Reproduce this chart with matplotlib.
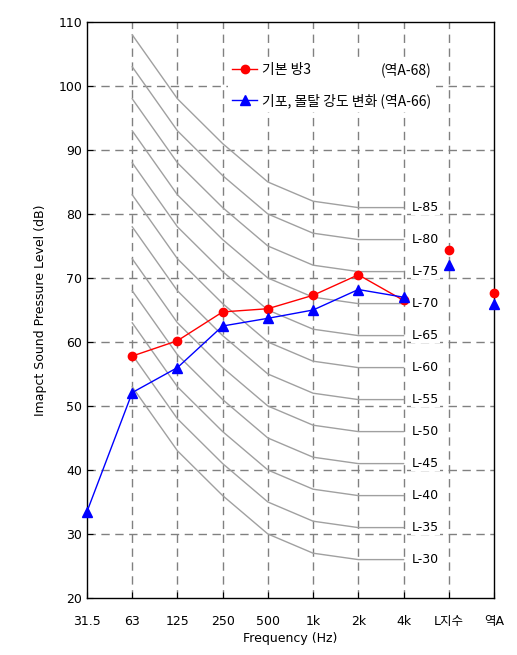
import matplotlib
matplotlib.use("Agg")
import matplotlib.pyplot as plt

plt.rcParams['font.family'] = ['DejaVu Sans', 'Noto Sans CJK KR']

# Categories (x axis)
categories = ['31.5', '63', '125', '250', '500', '1k', '2k', '4k', 'L지수', '역A']

# Measured series
red_label = '기본 방3'
red_note = '(역A-68)'
red_x = [1, 2, 3, 4, 5, 6, 7]
red_vals = [57.8, 60.2, 64.7, 65.2, 67.3, 70.5, 66.5]
red_extra_x = [8, 9]
red_extra = [74.3, 67.6]

blue_label = '기포, 몰탈 강도 변화 (역A-66)'
blue_x = [0, 1, 2, 3, 4, 5, 6, 7]
blue_vals = [33.5, 52.1, 56.0, 62.5, 63.7, 65.0, 68.2, 67.0]
blue_extra_x = [8, 9]
blue_extra = [72.0, 65.9]

# L-number reference curves (63 Hz .. 4 kHz)
curve_x = [1, 2, 3, 4, 5, 6, 7]
curve_shape = [23, 13, 6, 0, -3, -4, -4]   # offset relative to 500 Hz value
l_numbers = [30, 35, 40, 45, 50, 55, 60, 65, 70, 75, 80, 85]

fig = plt.figure(figsize=(5.17, 6.55), dpi=100)
ax = fig.add_axes([87/517, 1-598/655, (494-87)/517, (598-22)/655])

grid_style = dict(color='#808080', linestyle=(0, (6, 4)), linewidth=1.0)
for xv in range(1, 9):
    ax.axvline(xv, zorder=1, **grid_style)
for yv in range(30, 101, 10):
    ax.axhline(yv, zorder=1, **grid_style)

for n in l_numbers:
    ys = [n + d for d in curve_shape]
    ax.plot(curve_x, ys, color='#a0a0a0', linewidth=1.0, zorder=2)
    ax.text(7.18, ys[-1], f'L-{n}', fontsize=9, va='center', ha='left', zorder=3,
            bbox=dict(facecolor='white', edgecolor='none', pad=0.5))

ax.plot(red_x, red_vals, color='red', linewidth=1.0, marker='o', markersize=6,
        label=red_label, zorder=4)
ax.plot(red_extra_x, red_extra, color='red', linestyle='none', marker='o',
        markersize=6, zorder=8, clip_on=False)
ax.plot(blue_x, blue_vals, color='blue', linewidth=1.0, marker='^', markersize=7,
        label=blue_label, zorder=8, clip_on=False)
ax.plot(blue_extra_x, blue_extra, color='blue', linestyle='none', marker='^',
        markersize=7, zorder=8, clip_on=False)

ax.set_xlim(0, 9)
ax.set_ylim(20, 110)
ax.set_xticks(range(len(categories)))
ax.set_xticklabels(categories, fontsize=9)
ax.set_yticks(range(20, 111, 10))
ax.tick_params(axis='both', direction='in', length=4, labelsize=9)
ax.tick_params(axis='x', pad=12)
ax.set_xlabel('Frequency (Hz)', fontsize=9, labelpad=3)
ax.set_ylabel('Imapct Sound Pressure Level (dB)', fontsize=9, labelpad=8)
for s in ax.spines.values():
    s.set_linewidth(1.0)
    s.set_zorder(6)

leg_font = {'family': ['Noto Sans CJK KR', 'DejaVu Sans'], 'size': 10}
leg = ax.legend(loc='upper left', bbox_to_anchor=(0.33, 0.948), frameon=True,
                facecolor='white', edgecolor='none', framealpha=1,
                prop=leg_font, handlelength=1.8, labelspacing=1.15,
                borderpad=0.3, handletextpad=0.35)
leg.set_zorder(7)

# right-aligned note for first legend entry, aligned with the end of second entry
fig.canvas.draw()
renderer = fig.canvas.get_renderer()
texts = leg.get_texts()
bb1 = texts[0].get_window_extent(renderer)
bb2 = texts[1].get_window_extent(renderer)
x_end, y_mid = fig.transFigure.inverted().transform((bb2.x1, (bb1.y0 + bb1.y1) / 2))
fig.text(x_end, y_mid, red_note, ha='right', va='center', zorder=9,
         fontfamily=leg_font['family'], fontsize=leg_font['size'])

fig.savefig('out.png', dpi=100)
